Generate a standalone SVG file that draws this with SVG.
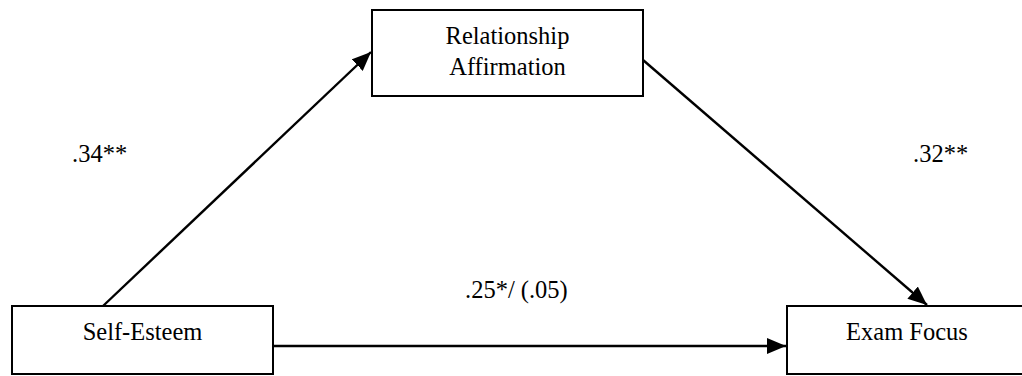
<svg xmlns="http://www.w3.org/2000/svg" width="1022" height="376" viewBox="0 0 1022 376">
<style>
.box{fill:#fff;stroke:#000;stroke-width:2}
.t{font-family:"Liberation Serif","Times New Roman",serif;font-size:24.5px;fill:#000}
.c{text-anchor:middle}
.ln{stroke:#000;stroke-width:2.4;fill:none;marker-end:url(#ah)}
</style>
<defs>
<marker id="ah" markerUnits="userSpaceOnUse" markerWidth="20" markerHeight="16" refX="19" refY="8" orient="auto">
<path d="M0,0 L19,8 L0,16 Z" fill="#000"/>
</marker>
</defs>
<rect width="1022" height="376" fill="#fff"/>
<g id="connectors">
<line class="ln" x1="103" y1="306" x2="371" y2="52"/>
<line class="ln" x1="643" y1="60" x2="927" y2="305"/>
<line class="ln" x1="273" y1="346" x2="786" y2="346"/>
</g>
<g id="relationship-affirmation">
<rect class="box" x="372" y="10" width="271" height="86"/>
<text class="t c" x="507.5" y="44">Relationship</text>
<text class="t c" x="507.5" y="75">Affirmation</text>
</g>
<g id="self-esteem">
<rect class="box" x="12" y="306" width="261" height="68"/>
<text class="t c" x="142.5" y="340">Self-Esteem</text>
</g>
<g id="exam-focus">
<rect class="box" x="787" y="306" width="240" height="68"/>
<text class="t c" x="907" y="340">Exam Focus</text>
</g>
<g id="labels">
<text class="t" x="72" y="162">.34**</text>
<text class="t" x="913" y="162">.32**</text>
<text class="t" x="465" y="298">.25*/ (.05)</text>
</g>
</svg>
